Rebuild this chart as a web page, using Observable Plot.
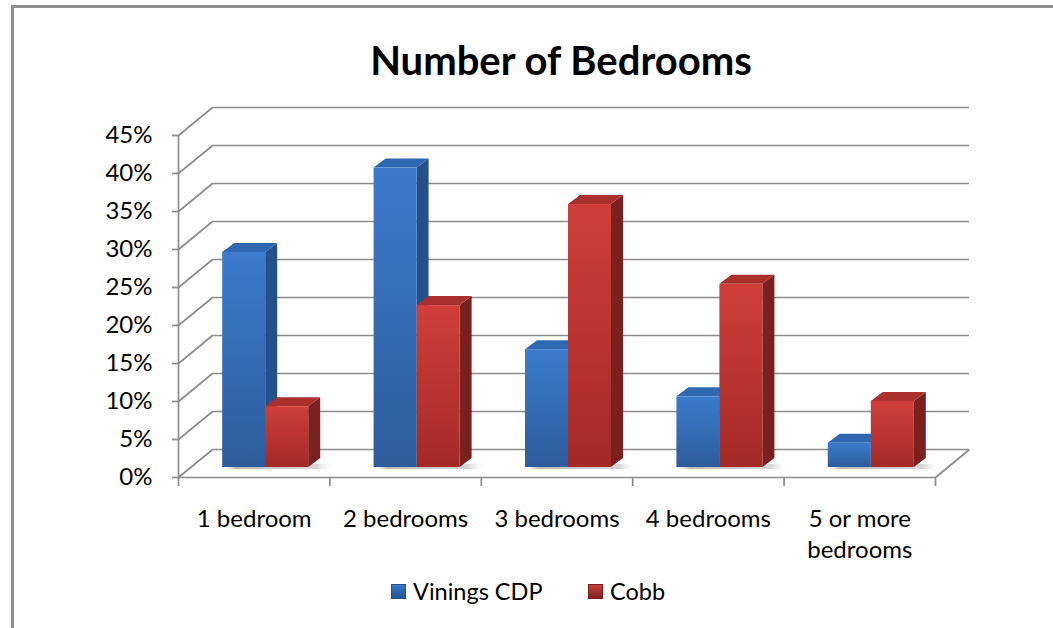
<!DOCTYPE html>
<html>
<head>
<meta charset="utf-8">
<script src="https://cdn.jsdelivr.net/npm/d3@7"></script>
<script src="https://cdn.jsdelivr.net/npm/@observablehq/plot@0.6"></script>
<style>
  html, body { margin: 0; padding: 0; background: #fff; }
  #wrap { position: relative; width: 1053px; height: 628px; overflow: hidden; background: #fff; font-family: Lato, "Open Sans", sans-serif; }
  #frame { position: absolute; left: 11px; top: 5px; width: 1100px; height: 700px; border-left: 3px solid #8f8f8f; border-top: 3px solid #8f8f8f; }
  #title { position: absolute; left: 0; width: 1122px; top: 36px; text-align: center; font-size: 40px; font-weight: 700; color: #000; }
  #chart { position: absolute; left: 0; top: 95px; }
  #legend { position: absolute; top: 576px; left: 0; width: 1053px; height: 30px; font-size: 23.5px; color: #000; }
  .lg { position: absolute; top: 0; display: flex; align-items: center; height: 30px; }
  .sw { width: 15px; height: 15px; margin-right: 7px; }
</style>
</head>
<body>
<div id="wrap">
  <div id="frame"></div>
  <div id="title">Number of Bedrooms</div>
  <div id="chart"></div>
  <div id="legend"></div>
</div>
<script>
const categories = ["1 bedroom", "2 bedrooms", "3 bedrooms", "4 bedrooms", "5 or more\nbedrooms"];
const vinings = [28.3, 39.4, 15.5, 9.3, 3.2];
const cobb = [8.0, 21.3, 34.6, 24.1, 8.7];
const seriesNames = ["Vinings CDP", "Cobb"];
const yTicks = [0, 5, 10, 15, 20, 25, 30, 35, 40, 45];

// layout (pixels)
const W = 1053, H = 465;
const mL = 178, mR = 118, mT = 40, mB = 83;
const kx = 5 / (W - mL - mR);      // data units per px (x)
const ky = 45 / (H - mT - mB);     // data units per px (y)
const backDX = 34, backDY = 28;    // depth of back wall (px)
const faceDX = 12, faceDY = 10;    // offset of bars' front face (px)
const barW = 43, barShift = -0.5;  // bar width, pair centre shift (px)
const sideDX = 12, sideDY = 9;     // bar depth (px)

const colors = {
  [seriesNames[0]]: {front: "url(#gBlue)", side: "#25508a", top: "#2f68b0"},
  [seriesNames[1]]: {front: "url(#gRed)", side: "#7a2120", top: "#a9302c"}
};

// build bar geometry from data
const bars = [];
categories.forEach((c, i) => {
  [[seriesNames[0], vinings[i], -barW], [seriesNames[1], cobb[i], 0]].forEach(([s, v, off]) => {
    const x1 = i + (off + barShift) * kx;
    const x2 = x1 + barW * kx;
    bars.push({id: s + i, series: s, cat: c, i, v, x1, x2});
  });
});
const side = bars.flatMap(b => [
  {id: b.id, series: b.series, x: b.x2, y1: 0, y2: b.v},
  {id: b.id, series: b.series, x: b.x2 + sideDX * kx, y1: sideDY * ky, y2: b.v + sideDY * ky}
]);
const tops = bars.flatMap(b => [
  {id: b.id, series: b.series, y: b.v, x1: b.x1, x2: b.x2},
  {id: b.id, series: b.series, y: b.v + sideDY * ky, x1: b.x1 + sideDX * kx, x2: b.x2 + sideDX * kx}
]);
const shadows = categories.map((c, i) => ({i, x1: i + (barShift - barW - 4) * kx, x2: i + (barShift + barW + 26) * kx}));

const grid = "#8c8c8c";
const barMarks = s => {
  const B = bars.filter(b => b.series === s);
  const S = side.filter(d => d.series === s);
  const T = tops.filter(d => d.series === s);
  return [
    Plot.areaY(S, {x: "x", y1: "y1", y2: "y2", z: "id", fill: colors[s].side, dx: faceDX, dy: -faceDY, curve: "linear"}),
    Plot.areaX(T, {y: "y", x1: "x1", x2: "x2", z: "id", fill: colors[s].top, dx: faceDX, dy: -faceDY, curve: "linear"}),
    Plot.rectY(B, {x1: "x1", x2: "x2", y1: 0, y2: "v", fill: colors[s].front, dx: faceDX, dy: -faceDY, inset: 0})
  ];
};

const plot = Plot.plot({
  width: W, height: H,
  marginLeft: mL, marginRight: mR, marginTop: mT, marginBottom: mB,
  x: {type: "linear", domain: [-0.5, 4.5], axis: null},
  y: {type: "linear", domain: [0, 45], axis: null},
  style: {fontFamily: "Lato, 'Open Sans', sans-serif", background: "transparent", overflow: "visible"},
  marks: [
    // back wall gridlines
    Plot.ruleY(yTicks, {x1: -0.5, x2: 4.5, dx: backDX, dy: -backDY, stroke: grid, strokeWidth: 1.7}),
    // side wall diagonals
    Plot.link(yTicks, {x1: -0.5, y1: d => d, x2: -0.5 + backDX * kx, y2: d => d + backDY * ky, stroke: grid, strokeWidth: 1.7}),
    // floor right edge
    Plot.link([0], {x1: 4.5, y1: 0, x2: 4.5 + backDX * kx, y2: backDY * ky, stroke: grid, strokeWidth: 1.7}),
    // floor front edge
    Plot.ruleY([0], {x1: -0.5, x2: 4.5, stroke: grid, strokeWidth: 1.7}),
    // front vertical axis
    Plot.ruleX([-0.5], {y1: 0, y2: 45, stroke: grid, strokeWidth: 1.7}),
    Plot.axisY(yTicks, {x: -0.5, anchor: "left", tickSize: 6, tickPadding: 20, tickFormat: d => d + "%", fontSize: 24, stroke: grid, strokeWidth: 1.7, color: "#000"}),
    Plot.axisX([-0.5, 0.5, 1.5, 2.5, 3.5, 4.5], {y: 0, anchor: "bottom", tickSize: 9, tickFormat: () => "", stroke: grid, strokeWidth: 1.7}),
    // floor shadows
    Plot.rect(shadows, {x1: "x1", x2: "x2", y1: 0, y2: 5 * ky, fill: "url(#gShadow)", dx: faceDX, dy: -faceDY + 2}),
    // bars
    ...barMarks(seriesNames[0]),
    ...barMarks(seriesNames[1]),
    // category labels
    Plot.text(categories, {x: (d, i) => i, y: 0, text: d => d, dy: 27, fontSize: 24, lineHeight: 1.3, lineAnchor: "top", fill: "#000"})
  ]
});

const defs = `
<defs>
  <linearGradient id="gBlue" x1="0" y1="0" x2="0" y2="1">
    <stop offset="0" stop-color="#3b7bcc"/>
    <stop offset="1" stop-color="#2d5c9c"/>
  </linearGradient>
  <linearGradient id="gRed" x1="0" y1="0" x2="0" y2="1">
    <stop offset="0" stop-color="#d03e39"/>
    <stop offset="1" stop-color="#a32a27"/>
  </linearGradient>
  <linearGradient id="gShadow" x1="0" y1="0" x2="1" y2="0">
    <stop offset="0" stop-color="#fff" stop-opacity="0"/>
    <stop offset="0.15" stop-color="#9a9a9a" stop-opacity="0.7"/>
    <stop offset="0.85" stop-color="#b5b5b5" stop-opacity="0.55"/>
    <stop offset="1" stop-color="#fff" stop-opacity="0"/>
  </linearGradient>
</defs>`;
d3.select(plot).insert(() => new DOMParser().parseFromString(`<svg xmlns="http://www.w3.org/2000/svg">${defs}</svg>`, "image/svg+xml").documentElement.firstElementChild, ":first-child");
document.getElementById("chart").appendChild(plot);

// legend
const legend = document.getElementById("legend");
const lgPos = [391, 588];
const lgCol = [["#3b7bcc", "#25508a"], ["#d03e39", "#7a2120"]];
seriesNames.forEach((s, k) => {
  const el = document.createElement("div");
  el.className = "lg";
  el.style.left = lgPos[k] + "px";
  el.innerHTML = `<div class="sw" style="background: linear-gradient(to bottom, ${lgCol[k][0]}, ${lgCol[k][1]}); box-shadow: inset 0 0 0 1px ${lgCol[k][1]};"></div><span>${s}</span>`;
  legend.appendChild(el);
});
</script>
</body>
</html>
